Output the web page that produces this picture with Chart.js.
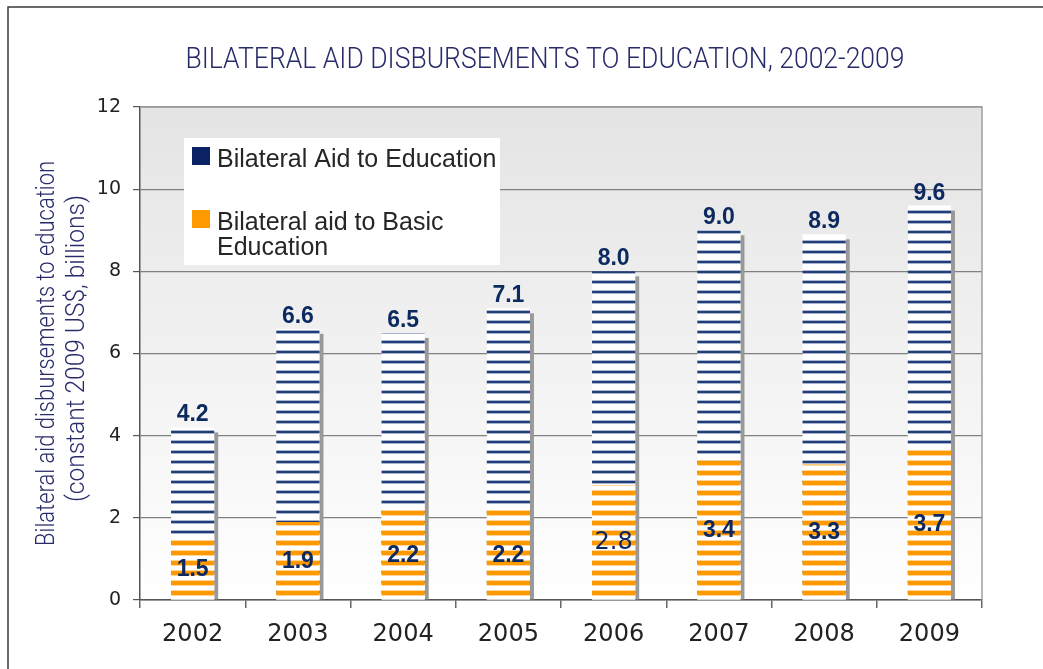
<!DOCTYPE html>
<html>
<head>
<meta charset="utf-8">
<script src="https://cdn.jsdelivr.net/npm/chart.js"></script>
<style>
  html, body { margin: 0; padding: 0; background: #fff; }
  #wrap { width: 1043px; height: 669px; }
</style>
</head>
<body>
<div id="wrap"><canvas id="chart" width="1043" height="669"></canvas></div>
<script>
const years = ['2002', '2003', '2004', '2005', '2006', '2007', '2008', '2009'];
const totalAid = [4.2, 6.6, 6.5, 7.1, 8.0, 9.0, 8.9, 9.6];
const basicAid = [1.5, 1.9, 2.2, 2.2, 2.8, 3.4, 3.3, 3.7];
const yTicks = [0, 2, 4, 6, 8, 10, 12];
const chartTitle = 'BILATERAL AID DISBURSEMENTS TO EDUCATION, 2002-2009';
const yTitle = ['Bilateral aid disbursements to education', '(constant 2009 US$, billions)'];
const seriesNames = ['Bilateral Aid to Education', 'Bilateral aid to Basic Education'];

const ctx = document.getElementById('chart').getContext('2d');

// horizontal stripe fills
function stripes(line, edge, thick) {
  const c = document.createElement('canvas');
  c.width = 10; c.height = 10;
  const g = c.getContext('2d');
  g.fillStyle = '#fff';
  g.fillRect(0, 0, 10, 10);
  g.fillStyle = edge;
  g.fillRect(0, 0, 10, thick + 2);
  g.fillStyle = line;
  g.fillRect(0, 1, 10, thick);
  return ctx.createPattern(c, 'repeat');
}
const bluePattern = stripes('#223e78', '#aab6cf', 2);
const orangePattern = stripes('#ff9900', '#ffd699', 4);

const decor = {
  id: 'decor',
  beforeDraw(chart) {
    const c = chart.ctx, a = chart.chartArea;
    c.save();
    const grad = c.createLinearGradient(0, a.top, 0, a.bottom);
    grad.addColorStop(0, '#e4e4e4');
    grad.addColorStop(0.6, '#f4f4f4');
    grad.addColorStop(1, '#ffffff');
    c.fillStyle = grad;
    c.fillRect(a.left, a.top, a.right - a.left, a.bottom - a.top);
    // outer frame
    c.strokeStyle = '#3a3a3a';
    c.lineWidth = 1.5;
    c.beginPath();
    c.moveTo(8, 669);
    c.lineTo(8, 7);
    c.lineTo(1043, 7);
    c.stroke();
    c.restore();
  },
  beforeDatasetsDraw(chart) {
    const c = chart.ctx, a = chart.chartArea;
    c.save();
    c.strokeStyle = '#a0a0a0';
    c.lineWidth = 1.5;
    c.beginPath();
    c.moveTo(a.left, a.top);
    c.lineTo(a.right, a.top);
    c.lineTo(a.right, a.bottom);
    c.stroke();

    // bar shadows
    c.fillStyle = '#999999';
    chart.getDatasetMeta(0).data.forEach(bar => {
      c.fillRect(bar.x + bar.width / 2, bar.y + 5, 4, bar.base - bar.y - 5);
    });

    // legend box
    c.fillStyle = '#ffffff';
    c.fillRect(184, 138, 316, 127);
    c.font = '25px "Liberation Sans", Arial, sans-serif';
    c.textBaseline = 'alphabetic';
    c.textAlign = 'left';
    const items = [
      { color: '#0b2265', y: 147, lines: wrap(c, seriesNames[0], 285) },
      { color: '#ff9900', y: 210, lines: wrap(c, seriesNames[1], 260) }
    ];
    items.forEach(it => {
      c.fillStyle = it.color;
      c.fillRect(192, it.y, 18, 18);
      c.fillStyle = '#262626';
      it.lines.forEach((ln, i) => c.fillText(ln, 217, it.y + 20 + i * 25));
    });
    c.restore();
  },
  afterDatasetsDraw(chart) {
    const c = chart.ctx;
    c.save();
    c.textAlign = 'center';
    c.fillStyle = '#0d2a60';
    c.font = 'bold 23px "Liberation Sans", Arial, sans-serif';
    c.textBaseline = 'alphabetic';
    chart.getDatasetMeta(0).data.forEach((bar, i) => {
      c.fillText(totalAid[i].toFixed(1), bar.x, bar.y - 6);
    });
    c.textBaseline = 'middle';
    chart.getDatasetMeta(1).data.forEach((bar, i) => {
      c.font = i === 4 ? '24px "DejaVu Sans", sans-serif' : 'bold 23px "Liberation Sans", Arial, sans-serif';
      c.fillText(basicAid[i].toFixed(1), bar.x, (bar.y + bar.base) / 2 + 1);
    });
    c.restore();
  },
  afterDraw(chart) {
    const c = chart.ctx, a = chart.chartArea;
    c.save();
    c.fillStyle = '#272b69';
    c.textAlign = 'center';
    c.textBaseline = 'alphabetic';
    c.font = '300 30px Roboto, sans-serif';
    c.fillText(chartTitle, 545, 68, 719);
    c.translate(0, (a.top + a.bottom) / 2);
    c.rotate(-Math.PI / 2);
    c.textBaseline = 'middle';
    c.font = '300 25px Roboto, sans-serif';
    c.fillText(yTitle[0], 0, 47.5, 385);
    c.fillText(yTitle[1], 5, 77.5, 307);
    c.restore();
  }
};

function wrap(c, text, maxW) {
  const words = text.split(' ');
  const lines = [];
  let cur = '';
  words.forEach(w => {
    const t = cur ? cur + ' ' + w : w;
    if (c.measureText(t).width > maxW && cur) {
      lines.push(cur);
      cur = w;
    } else {
      cur = t;
    }
  });
  lines.push(cur);
  return lines;
}

new Chart(ctx, {
  type: 'bar',
  data: {
    labels: years,
    datasets: [
      {
        label: seriesNames[0],
        data: totalAid,
        backgroundColor: bluePattern,
        grouped: false,
        order: 2,
        barPercentage: 0.41,
        categoryPercentage: 1
      },
      {
        label: seriesNames[1],
        data: basicAid,
        backgroundColor: orangePattern,
        grouped: false,
        order: 1,
        barPercentage: 0.41,
        categoryPercentage: 1
      }
    ]
  },
  options: {
    responsive: false,
    animation: false,
    layout: { padding: { left: 0, top: 107, right: 61, bottom: 0 } },
    plugins: {
      legend: { display: false },
      title: { display: false },
      tooltip: { enabled: false }
    },
    scales: {
      x: {
        grid: {
          offset: true,
          drawOnChartArea: false,
          drawTicks: true,
          tickLength: 8,
          color: '#666',
          lineWidth: 1.5
        },
        border: { color: '#555', width: 1.5 },
        ticks: {
          color: '#222',
          padding: 12,
          font: { family: '"DejaVu Sans"', size: 24 }
        },
        afterFit(scale) { scale.height = 69; }
      },
      y: {
        min: 0,
        max: 12,
        afterBuildTicks(scale) { scale.ticks = yTicks.map(v => ({ value: v })); },
        grid: {
          color: '#808080',
          lineWidth: 1.2,
          tickLength: 7,
          tickColor: '#555'
        },
        border: { color: '#555', width: 1.5 },
        ticks: {
          color: '#222',
          padding: 12,
          font: { family: '"DejaVu Sans"', size: 19 }
        },
        afterFit(scale) { scale.width = 140; }
      }
    }
  },
  plugins: [decor]
});
</script>
</body>
</html>
